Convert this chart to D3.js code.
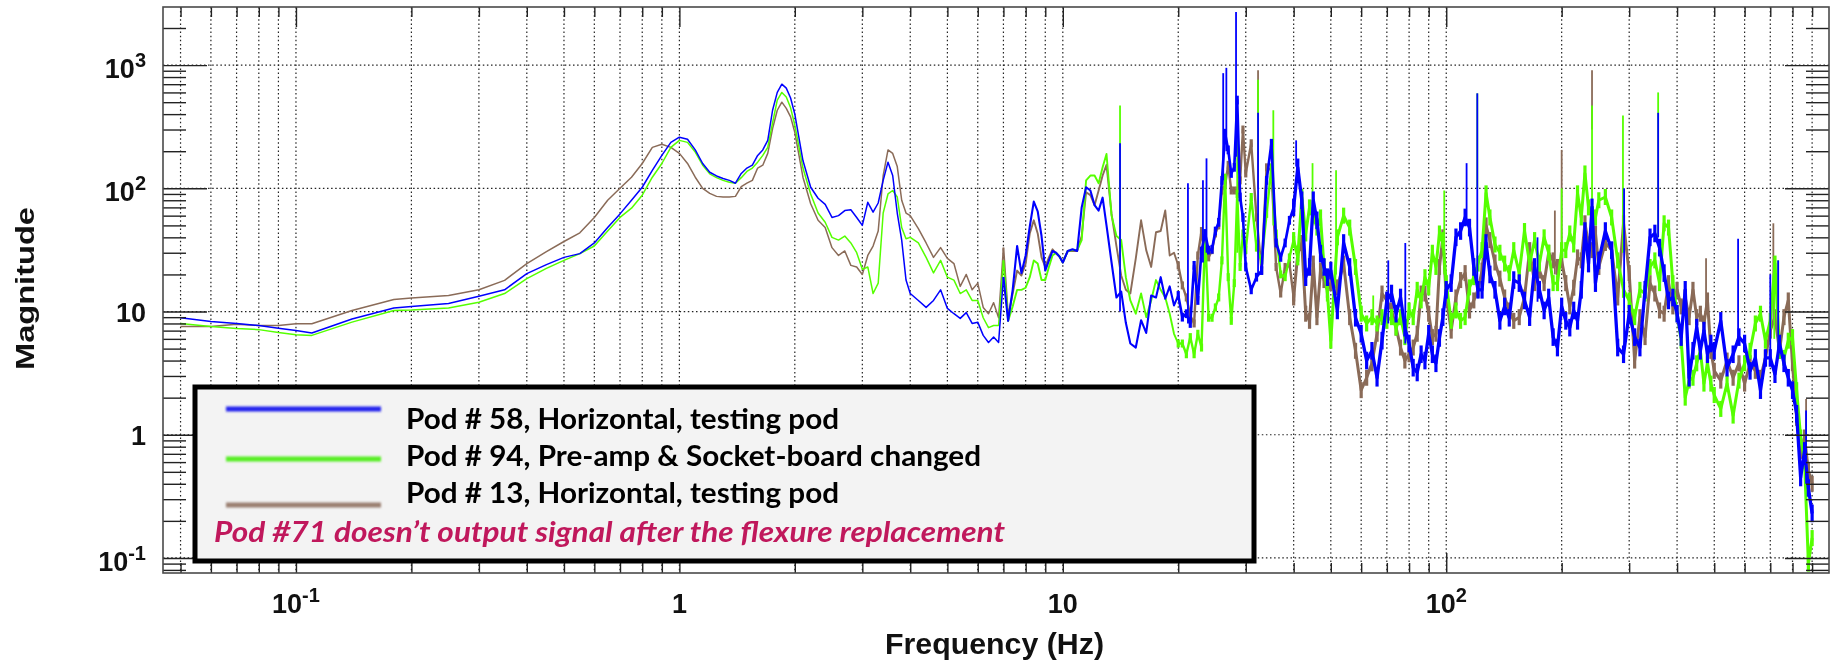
<!DOCTYPE html>
<html>
<head>
<meta charset="utf-8">
<script src="https://cdn.jsdelivr.net/npm/d3@7"></script>
<style>
  html, body { margin: 0; padding: 0; background: #fff; }
  svg { display: block; filter: blur(0.4px); }
  .axis-text { font-family: "Liberation Sans", Arial, sans-serif; font-weight: bold; fill: #111; }
  .legend-label { font-family: Lato, "Open Sans", sans-serif; font-weight: bold; fill: #000; }
</style>
</head>
<body>
<div id="chart"></div>
<script>
// Frequency grid (Hz)
var freqLow = [
  0.05,0.06,0.07,0.08,0.09,0.1,0.11,0.14,0.18,0.2,
  0.25,0.3,0.35,0.4,0.45,0.5,0.55,0.6,0.65,0.7,
  0.75,0.8,0.85,0.9,0.95,1,1.05,1.1,1.15,1.2,
  1.25,1.3,1.35,1.4,1.45,1.5,1.55,1.6,1.65,1.7,
  1.75,1.8,1.85,1.9,1.95,2,2.1,2.2,2.3,2.4,
  2.5,2.6,2.7,2.8,2.9,3,3.1,3.2,3.3,3.4,
  3.5,3.6,3.7,3.8,3.9,4,4.2,4.4,4.6,4.8,
  5,5.2,5.4,5.6,5.8,6,6.2,6.4,6.6,6.8,
  7
];
var freqHigh = [
  7.2,7.4,7.6,7.8,8,8.2,8.4,8.6,8.8,9,
  9.2,9.4,9.6,9.8,10,10.3,10.6,10.9,11.2,11.5,
  11.8,12.1,12.4,12.7,13,13.4,13.8,14.2,14.6,15,
  15.5,16,16.5,17,17.5,18,18.5,19,19.5,20,
  20.5,21,21.5,22,22.5,23,23.5,24,24.5,25,
  25.5,26,26.5,27,27.5,28,28.5,29,29.5,30,
  31,32,33,34,35,36,37,38,39,40,
  41,42,43,44,45,46,47,48,49,50,
  52,54,56,58,60,62,64,66,68,70,
  72,74,76,78,80,82,84,86,88,90,
  92,94,96,98,100,103,106,109,112,115,
  118,121,124,127,130,134,138,142,146,150,
  155,160,165,170,175,180,185,190,195,200,
  205,210,215,220,225,230,235,240,245,250,
  260,270,280,290,300,310,320,330,340,350,
  360,370,380,390,400,410,420,430,440,450,
  460,470,480,490,500,520,540,560,580,600,
  620,640,660,680,700,720,740,760,780,800,
  820,840,860,880,900
];

// Pod 58 magnitude
var pod58Low = [
  8.9,8.3,8,7.7,7.3,7,6.7,8.7,10.7,11,
  11.6,13.3,15,20.3,24,27.5,29.5,36,48,62,
  80,102,140,185,236,260,250,205,159,135,
  126,120,116,110,132,146,154,185,205,245,
  430,600,700,650,540,400,168,102,83,74,
  58,60,66,67,58,50,77,64,76,116,
  163,127,63,38,18,14,12.3,10.8,12.3,15,
  10.6,9.6,8.8,9.8,8,8.2,6.4,5.6,6.2,5.6,
  19
];
var pod58High = [
  8.4,15,34,20.5,28.5,49,78,65,41,21.5,
  26,31,30,28,25,31,32,31,70,102,
  96,73,66,84,50,25,13,14.5,8.1,5.5,
  5.1,8.5,6.7,13.5,13,19,12.7,16,11.2,13.5,
  9,9.6,8,23.7,12.3,31,43,31.5,32,45,
  53,116,280,205,132,148,520,85,58,23,
  15,19,21.5,116,232,36,27.5,36,55,70,
  148,80,19,23,80,55,29.5,23,19,21.5,
  10.2,36,23,8.9,6.6,4,4.8,2.9,5.8,12.3,
  14,9.6,13,7.4,5.5,3.5,3.2,4.5,4,6.6,
  4.5,3.8,6.1,9,15,17,40,45,58,48,
  23,15,15,36,20,15,8.4,11,8.9,18,
  17,12.3,9,23,15,10.2,13,6.2,5.1,11,
  8.4,7.4,10.2,8.4,15,45,24.5,70,17,26,
  45,31.5,5.1,4.5,9.6,6.2,5.1,15,40,43,
  33,20.5,12.3,13,9.6,6.2,15,2.9,4.8,7.4,
  4.8,7,4.5,5.5,4.8,8.4,3.5,4.5,6.2,5.5,
  3.3,4.2,2.3,4.2,4.2,3.1,5.5,3.8,2.9,2.3,
  1.48,0.45,0.74,0.37,0.23
];

// Pod 94 magnitude
var pod94Low = [
  8,7.55,7.27,7.13,6.75,6.47,6.4,8.2,10.2,10.3,
  10.7,11.9,14,18.5,22.4,26,29.5,34,45,58,
  69,88,123,159,215,245,236,197,154,131,
  122,116,112,110,122,137,146,163,185,215,
  340,520,600,550,450,325,146,90,63,53,
  40,38,41,36,30,22,23,14,17,63,
  90,96,85,48,39,40,36,27.5,20.6,26,
  19,18,14,15,12.3,12.3,8.9,7.4,7.7,7.7,
  26
];
var pod94High = [
  8.4,11,15,15,15.6,19,26,24.5,18,18,
  23,28.5,30,28,25,31,31.5,31.5,38,116,
  127,127,110,148,190,60,41,38,19,12.3,
  9.6,14,9,12.3,18,15,13,9.6,6.6,5.5,
  5.5,4.5,6.2,4.5,6.6,5.1,43,8.9,8.9,10.8,
  13,26,122,19,8.4,17,90,23,43,31.5,
  85,33,26,62,148,43,20,19,27.5,38,
  27.5,85,43,70,60,48,58,23,14,5.8,
  40,60,48,23,9.6,8,9,8,9,8.4,
  9,7.4,9,6.2,10.2,9,15,12.3,19,15.7,
  30,23,43,38,17,8.4,10.2,8.4,9,15.7,
  19,24.5,31.5,91,58,35,30,24.5,20.5,31.5,
  20.5,45,24.5,38,24.5,40,30,17,17,31.5,
  31.5,43,35,91,58,132,70,62,58,80,
  85,58,26,15,12.3,9,15,14,23,26,
  17,52,48,17,9.6,5.8,2,2.75,2.9,3.8,
  4.8,2.6,3.8,2.6,2.1,1.62,2.6,1.43,2.75,3.8,
  4.8,8,9.6,5.8,8.4,24.5,4.8,4.2,5.8,6.2,
  2.3,0.95,0.61,0.09,0.145
];

// Pod 13 magnitude
var pod13Low = [
  7.55,7.55,7.9,7.7,7.7,7.97,7.97,10.2,12.5,12.9,
  13.5,15,17.9,24.5,30.6,37,43.5,58,80,100,
  123,159,215,228,215,192,159,123,100,91,
  86,85,85,86,103,110,116,146,154,192,
  305,430,500,445,380,285,123,75,55,48,
  33,28.5,31,23.7,23,20,28.5,34,45,127,
  205,192,150,80,63,60,47,36,27.5,33,
  27,24.5,16,20,15,17,10.8,9.6,11.8,8.9,
  33
];
var pod13High = [
  9,14,21.5,19.6,24.5,43,55,43,27.5,23,
  27.5,32,29.5,28,25,31,31,31,41,93,
  88,73,96,127,155,62,34,19.6,15,14,
  27,55,31.5,23,44,45,66,28.5,30,23.7,
  16.3,13,9.3,8,28.5,45,26,27.5,31.5,43,
  50,96,106,155,96,96,96,116,300,132,
  232,58,21.5,148,140,23,14,23,24.5,13,
  29.5,36,9.6,8.4,24.5,9,21.5,18,15,17,
  15.7,24.5,9,4.8,2.3,2.9,3.8,6.6,14,12.3,
  10.2,7.4,5.1,4,4.5,5.1,6.6,14,14,9.6,
  6.2,6.6,23,40,13,7,13,18,20.5,10.2,
  12.3,15,21.5,50,38,25,18.5,13,10.2,8.4,
  9,13,31.5,17,21.5,17,30,26,23,26,
  17,11,15.6,27.5,26,52,35,31.5,43,23,
  36,31.5,13,52,20.5,4,9,6.2,17,14,
  10.2,9.6,17,11,15,11,13,9,15,9,
  9.6,8,12.3,4.8,3.3,2.75,4,2.9,3.8,2.6,
  3.8,3.3,2.9,4.2,7,9,4.8,9,12.3,3.8,
  1.37,0.74,0.95,0.51,0.4
];

// Narrow resonance spikes: frequency, top and foot
var pod58SpikeHz = [14.1,21.2,23.2,23.7,26.2,26.7,28.3,32.3,40.6,70.6,78.2,113,120.5,173,291,357,577,700,734,868];
var pod58SpikeTop = [232,110,116,175,860,950,2700,410,245,26,36,160,590,40,100,410,39,20,26,1.57];
var pod58SpikeFoot = [10,8,25,30,116,200,180,20,150,8,5.5,50,15,12,5,40,6,4,5,0.4];

var pod94SpikeHz = [14.1,28.5,32.3,35.4,44.8,51.6,64.5,98.8,120.5,200,240,289,357,717,734];
var pod94SpikeTop = [470,340,760,430,160,140,13.5,96,590,100,470,390,600,26,26];
var pod94SpikeFoot = [20,30,200,50,50,20,8,20,100,30,60,30,40,6,5];

var pod13SpikeHz = [32.3,192,200,240,476,713,868];
var pod13SpikeTop = [910,66,205,910,27,52,1.95];
var pod13SpikeFoot = [100,20,30,300,10,8,0.6];

// Axis ticks
var xMajorTicks = [0.1,1,10,100];
var xMinorTicks = [0.05,0.06,0.07,0.08,0.09,0.2,0.3,0.4,0.5,0.6,0.7,0.8,0.9,2,3,4,5,6,7,8,9,20,30,40,50,60,70,80,90,200,300,400,500,600,700,800,900];
var yMajorTicks = [0.1,1,10,100,1000];
var yMinorTicks = [0.08,0.09,0.2,0.3,0.4,0.5,0.6,0.7,0.8,0.9,2,3,4,5,6,7,8,9,20,30,40,50,60,70,80,90,200,300,400,500,600,700,800,900,2000];
var xTickBase = ["10","1","10","10"];
var xTickExp = ["-1","","","2"];
var yTickBase = ["10","1","10","10","10"];
var yTickExp = ["-1","","","2","3"];

// Legend text
var legendLabels = ["Pod # 58, Horizontal, testing pod","Pod # 94, Pre-amp & Socket-board changed","Pod # 13, Horizontal, testing pod"];
var legendNote = "Pod #71 doesn\u2019t output signal after the flexure replacement";

// Drawing area
var width = 1843, height = 663;
var plot = {left: 163, right: 1829, top: 7, bottom: 573};

var svg = d3.select("#chart").append("svg")
  .attr("width", width)
  .attr("height", height);

var x = d3.scaleLog().domain([0.045, 996]).range([plot.left, plot.right]);
var y = d3.scaleLog().domain([0.0755, 2961]).range([plot.bottom, plot.top]);

// Line gets heavier where the sampling gets denser, and the fast
// ripple shows as a short upright stroke at each sample
var segmentEdges = [0.05, 7, 20, 40, 900];
var segmentWidths = [1.5, 1.9, 2.4, 3];
var rippleHeights = [0, 0, 8, 16];
var pods = [
  {color: "#8a6b58", values: pod13Low.concat(pod13High), spikeHz: pod13SpikeHz, spikeTop: pod13SpikeTop, spikeFoot: pod13SpikeFoot, scale: 1},
  {color: "#55ff00", values: pod94Low.concat(pod94High), spikeHz: pod94SpikeHz, spikeTop: pod94SpikeTop, spikeFoot: pod94SpikeFoot, scale: 1},
  {color: "#0000ff", values: pod58Low.concat(pod58High), spikeHz: pod58SpikeHz, spikeTop: pod58SpikeTop, spikeFoot: pod58SpikeFoot, scale: 1.1}
];
var freq = freqLow.concat(freqHigh);

// Grid
var gridLayer = svg.append("g").attr("class", "grid");

gridLayer.selectAll(".grid-x")
  .data(xMajorTicks.concat(xMinorTicks))
  .enter().append("line")
  .attr("x1", function(d) { return x(d); })
  .attr("x2", function(d) { return x(d); })
  .attr("y1", plot.top)
  .attr("y2", plot.bottom)
  .attr("stroke", "#222")
  .attr("stroke-width", 1.2)
  .attr("stroke-dasharray", "1.5 2.6");

gridLayer.selectAll(".grid-y")
  .data(yMajorTicks)
  .enter().append("line")
  .attr("x1", plot.left)
  .attr("x2", plot.right)
  .attr("y1", function(d) { return y(d); })
  .attr("y2", function(d) { return y(d); })
  .attr("stroke", "#222")
  .attr("stroke-width", 1.2)
  .attr("stroke-dasharray", "1.5 2.6");

// Traces
var line = d3.line()
  .x(function(d) { return x(d[0]); })
  .y(function(d) { return y(d[1]); });

var traces = svg.append("g").attr("fill", "none");

pods.forEach(function(pod) {
  var g = traces.append("g").attr("stroke", pod.color);
  var points = d3.zip(freq, pod.values);

  segmentWidths.forEach(function(w, i) {
    var part = points.filter(function(d) {
      return d[0] >= segmentEdges[i] && d[0] <= segmentEdges[i + 1];
    });
    g.append("path")
      .attr("d", line(part))
      .attr("stroke-width", w * (i > 0 ? pod.scale : 1))
      .attr("stroke-linejoin", "round");

    if (rippleHeights[i] > 0) {
      g.append("g").selectAll("line")
        .data(part)
        .enter().append("line")
        .attr("x1", function(d) { return x(d[0]); })
        .attr("x2", function(d) { return x(d[0]); })
        .attr("y1", function(d) { return y(d[1]) - rippleHeights[i] * pod.scale / 2; })
        .attr("y2", function(d) { return y(d[1]) + rippleHeights[i] * pod.scale / 2; })
        .attr("stroke-width", 3.2);
    }
  });

  g.append("g").selectAll("line")
    .data(pod.spikeHz)
    .enter().append("line")
    .attr("x1", function(d) { return x(d); })
    .attr("x2", function(d) { return x(d); })
    .attr("y1", function(d, i) { return y(pod.spikeTop[i]); })
    .attr("y2", function(d, i) { return y(pod.spikeFoot[i]); })
    .attr("stroke-width", 1.8);
});

// Tick marks, both long and short, on all four sides
function drawTicks(axis, ticks, size, offset) {
  svg.append("g")
    .attr("transform", offset)
    .call(axis.tickValues(ticks).tickSize(size).tickFormat(""))
    .call(function(g) {
      g.select(".domain").remove();
      g.selectAll("line").attr("stroke", "#222").attr("stroke-width", 1.4);
    });
}

var xBottom = "translate(0," + plot.bottom + ")";
var xTop = "translate(0," + plot.top + ")";
var yLeft = "translate(" + plot.left + ",0)";
var yRight = "translate(" + plot.right + ",0)";

drawTicks(d3.axisTop(x), xMajorTicks, 20, xBottom);
drawTicks(d3.axisTop(x), xMinorTicks, 10, xBottom);
drawTicks(d3.axisBottom(x), xMajorTicks, 20, xTop);
drawTicks(d3.axisBottom(x), xMinorTicks, 10, xTop);
drawTicks(d3.axisRight(y), yMajorTicks, 44, yLeft);
drawTicks(d3.axisRight(y), yMinorTicks, 23, yLeft);
drawTicks(d3.axisLeft(y), yMajorTicks, 44, yRight);
drawTicks(d3.axisLeft(y), yMinorTicks, 23, yRight);

// Frame
svg.append("rect")
  .attr("x", plot.left)
  .attr("y", plot.top)
  .attr("width", plot.right - plot.left)
  .attr("height", plot.bottom - plot.top)
  .attr("fill", "none")
  .attr("stroke", "#4a4a4a")
  .attr("stroke-width", 1.6);

// Tick labels
function appendPower(sel, bases, exps) {
  sel.text(function(d, i) { return bases[i]; });
  sel.each(function(d, i) {
    if (exps[i]) {
      d3.select(this).append("tspan")
        .attr("dy", -11)
        .attr("font-size", 20)
        .text(exps[i]);
    }
  });
}

var xLabels = svg.selectAll(".x-label")
  .data(xMajorTicks)
  .enter().append("text")
  .attr("class", "axis-text x-label")
  .attr("x", function(d) { return x(d); })
  .attr("y", 613)
  .attr("text-anchor", "middle")
  .attr("font-size", 27);
appendPower(xLabels, xTickBase, xTickExp);

var yLabels = svg.selectAll(".y-label")
  .data(yMajorTicks)
  .enter().append("text")
  .attr("class", "axis-text y-label")
  .attr("x", 146)
  .attr("y", function(d, i) { return y(d) + (yTickExp[i] ? 13 : 10); })
  .attr("text-anchor", "end")
  .attr("font-size", 27);
appendPower(yLabels, yTickBase, yTickExp);

// Axis titles
svg.append("text")
  .attr("class", "axis-text")
  .attr("x", 885)
  .attr("y", 654)
  .attr("font-size", 29)
  .attr("textLength", 219)
  .attr("lengthAdjust", "spacingAndGlyphs")
  .text("Frequency (Hz)");

svg.append("text")
  .attr("class", "axis-text")
  .attr("transform", "translate(34,370) rotate(-90)")
  .attr("font-size", 26.5)
  .attr("textLength", 163)
  .attr("lengthAdjust", "spacingAndGlyphs")
  .text("Magnitude");

// Legend
var blur = svg.append("defs").append("filter")
  .attr("id", "soft")
  .attr("filterUnits", "userSpaceOnUse")
  .attr("x", 200).attr("y", 390).attr("width", 220).attr("height", 130);
blur.append("feGaussianBlur").attr("stdDeviation", 1.3);

var legend = svg.append("g");

legend.append("rect")
  .attr("x", 195)
  .attr("y", 387)
  .attr("width", 1059)
  .attr("height", 174)
  .attr("fill", "#f3f3f3")
  .attr("stroke", "#000")
  .attr("stroke-width", 5);

var legendLineY = [409, 459, 505];
var legendTextY = [429, 466, 503];
var legendTextWidth = [433, 575, 433];
var legendColors = ["#2222ee", "#55ee22", "#9a7f70"];

legend.selectAll(".legend-line")
  .data(legendLineY)
  .enter().append("line")
  .attr("class", "legend-line")
  .attr("x1", 226)
  .attr("x2", 381)
  .attr("y1", function(d) { return d; })
  .attr("y2", function(d) { return d; })
  .attr("stroke", function(d, i) { return legendColors[i]; })
  .attr("stroke-width", 5)
  .attr("filter", "url(#soft)");

legend.selectAll(".legend-label")
  .data(legendLabels)
  .enter().append("text")
  .attr("class", "legend-label")
  .attr("x", 406)
  .attr("y", function(d, i) { return legendTextY[i]; })
  .attr("font-size", 28)
  .attr("textLength", function(d, i) { return legendTextWidth[i]; })
  .attr("lengthAdjust", "spacingAndGlyphs")
  .text(function(d) { return d; });

legend.append("text")
  .attr("class", "legend-label")
  .attr("x", 214)
  .attr("y", 542)
  .attr("font-size", 28)
  .attr("font-style", "italic")
  .attr("textLength", 791)
  .attr("lengthAdjust", "spacingAndGlyphs")
  .style("fill", "#c0185c")
  .text(legendNote);
</script>
</body>
</html>
